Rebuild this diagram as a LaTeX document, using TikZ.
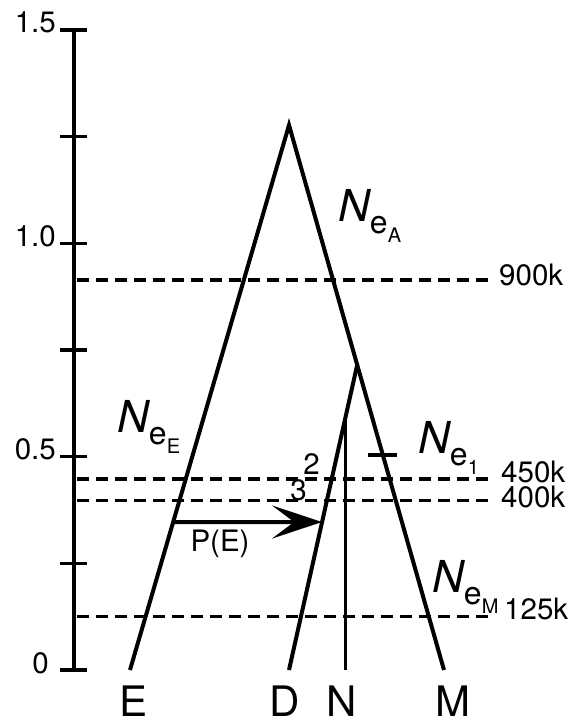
\documentclass[tikz,border=0pt]{standalone}
\usepackage{fontspec}
\setmainfont{TeX Gyre Heros}
\usetikzlibrary{arrows.meta,calc}
\newcommand{\Nsize}[1]{%
  {\fontsize{44}{44}\selectfont\itshape N}%
  \raisebox{-12pt}{\fontsize{32}{32}\selectfont e\raisebox{-9pt}{\fontsize{20}{20}\selectfont #1}}}

\begin{document}
\begin{tikzpicture}[x=1pt,y=426.67pt,>={Stealth[length=50pt,width=33pt,inset=22pt]},
  branch/.style={line width=4pt},
  level/.style={line width=3.3pt,dash pattern=on 12pt off 7pt},
  axtick/.style={line width=3.3pt},
  num/.style={font=\fontsize{29.5}{30}\selectfont,inner sep=0pt},
  leaf/.style={font=\fontsize{42}{42}\selectfont,inner sep=0pt,anchor=base},
  popn/.style={inner sep=0pt,anchor=base west}]
\useasboundingbox (0,-0.1242) rectangle (571,1.5703);

% time axis
\coordinate (ax0) at (74,0);
\coordinate (ax1) at (74,1.5);
\draw[axtick] (ax0) -- (ax1);
\foreach \v in {0,0.25,...,1.5}
  \draw[axtick] (60,\v) -- (87,\v);
\node[num,anchor=base east] (t15) at (56,1.5) [yshift=-3pt] {1.5};
\node[num,anchor=base east] (t10) at (56,1.0) [yshift=-3pt] {1.0};
\node[num,anchor=base east] (t05) at (56,0.5) [yshift=-3pt] {0.5};
\node[num,anchor=base east] (t00) at (49,0) [yshift=-3pt] {0};

% dated levels
\foreach \v/\lv/\txt/\lx in {0.914/0.902/900k/499,0.4477/0.4406/450k/501,
                             0.398/0.3820/400k/501,0.125/0.1172/125k/504}{
  \draw[level] (77,\v) coordinate (l\txt) -- (491,\v) coordinate (r\txt);
  \node[num,anchor=base west] (k\txt) at (\lx,\lv) {\txt};
}

% tree
\coordinate (top) at (289,1.277);
\coordinate (e) at (130,0);
\coordinate (d) at (289,0);
\coordinate (m) at (444,0);
\coordinate (jn) at ($(top)!0.44!(m)$);
\coordinate (nj) at ($(jn)!0.1645!(d)$);
\draw[branch] (e) -- (top) -- (m);
\draw[branch] (jn) -- (d);
\draw[line width=3pt] (nj) -- (nj |- d);

% marker on the M branch
\coordinate (mk) at ($(top)!0.6055!(m)$);
\draw[branch] ([xshift=-14.5pt]mk) -- ([xshift=14.5pt]mk);

% migration arrow
\coordinate (pe) at ($(top)!0.7284!(e)$);
\coordinate (pd) at ($(jn)!0.515!(d)$);
\draw[branch,->] (pe) -- (pd);
\node[num,anchor=base] (pE) at (220,0.2766) {P(E)};

\node[num,anchor=base] (two) at (311.5,0.4571) {2};
\node[num,anchor=base] (three) at (298.5,0.3961) {3};

% population sizes
\node[popn] (neA) at (338,1.050) {\Nsize{A}};
\node[popn] (neE) at (117,0.5555) {\Nsize{E}};
\node[popn] (ne1) at (418,0.5063) {\Nsize{1}};
\node[popn] (neM) at (432,0.1828) {\Nsize{M}};

% leaves
\node[leaf] (lE) at (134,-0.109) {E};
\node[leaf] (lD) at (285,-0.109) {D};
\node[leaf] (lN) at (342,-0.109) {N};
\node[leaf] (lM) at (452.5,-0.109) {M};
\end{tikzpicture}
\end{document}
